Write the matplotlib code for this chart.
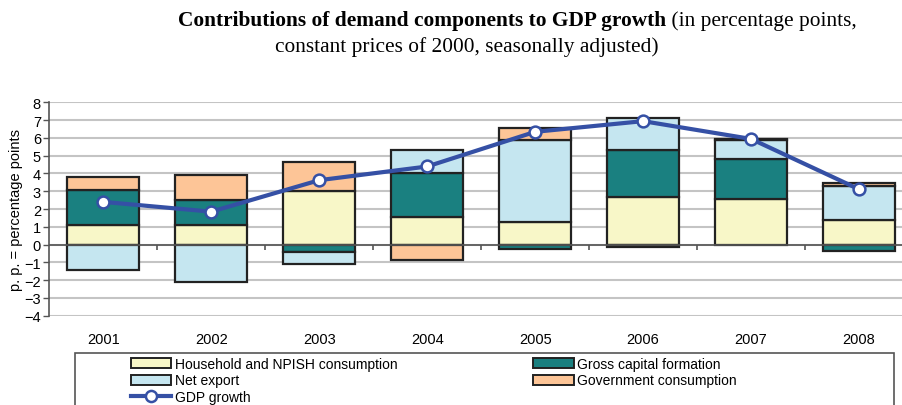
import numpy as np
import matplotlib
matplotlib.use("Agg")
import matplotlib.pyplot as plt
from matplotlib.patches import Patch, Rectangle
from matplotlib.lines import Line2D

years = ["2001", "2002", "2003", "2004", "2005", "2006", "2007", "2008"]
household = [1.10, 1.10, 3.00, 1.57, 1.26, 2.66, 2.59, 1.37]
gcf = [1.95, 1.40, -0.41, 2.46, -0.24, 2.66, 2.23, -0.35]
net_export = [-1.45, -2.10, -0.66, 1.27, 4.64, 1.77, 1.05, 1.91]
gov = [0.75, 1.40, 1.63, -0.84, 0.64, -0.15, 0.08, 0.17]
gdp = [2.40, 1.85, 3.62, 4.39, 6.34, 6.94, 5.94, 3.11]

series = [
    ("Household and NPISH consumption", household, "#F8F7C8"),
    ("Gross capital formation", gcf, "#1A8080"),
    ("Net export", net_export, "#C5E6F0"),
    ("Government consumption", gov, "#FDC597"),
]

plt.rcParams['font.family'] = ['Liberation Sans', 'DejaVu Sans']
W, H = 903, 406
fig = plt.figure(figsize=(W / 100, H / 100), dpi=100)

def fx(px):
    return px / W

def fy(py):
    return 1 - py / H

ax = fig.add_axes([fx(49.3), fy(316.7), fx(913 - 49.3), (316.7 - 103.3) / H])

x = np.arange(len(years))
pos_bottom = np.zeros(len(years))
neg_bottom = np.zeros(len(years))
bw = 0.67
for name, vals, col in series:
    v = np.array(vals, dtype=float)
    bottom = np.where(v >= 0, pos_bottom, neg_bottom)
    ax.bar(x, v, bw, bottom=bottom, color=col, edgecolor="#222222",
           linewidth=1.6, zorder=3)
    pos_bottom = pos_bottom + np.where(v >= 0, v, 0)
    neg_bottom = neg_bottom + np.where(v < 0, v, 0)

ax.plot(x, gdp, color="#3550A5", linewidth=3, marker="o", markersize=8.5,
        markerfacecolor="white", markeredgecolor="#3550A5",
        markeredgewidth=1.8, zorder=5)

ax.set_xlim(-0.5, len(years) - 0.5)
ax.set_ylim(-4, 8)
ax.set_yticks(np.arange(-4, 9, 1))
ax.yaxis.grid(True, color="#C4C4C4", linewidth=1.5, zorder=0)
ax.set_axisbelow(True)
ax.axhline(0, color="#555555", linewidth=1.2, zorder=4)
bounds = np.arange(len(years) - 1) + 0.5
ax.vlines(bounds, -0.28, 0, color="#555555", linewidth=1.2, zorder=4)

ax.set_xticks(x)
ax.set_xticklabels(years)
ax.tick_params(axis="x", length=0, pad=12, labelsize=10.5)
ax.tick_params(axis="y", length=4, width=1, color="#555555", pad=2,
               labelsize=10.5)
for s in ["top", "right", "bottom"]:
    ax.spines[s].set_visible(False)
ax.spines["left"].set_color("#555555")
ax.spines["left"].set_linewidth(1.2)

fig.text(fx(16), fy(210), "p. p. = percentage points", rotation=90,
         ha="center", va="center", fontsize=10.5)

t1 = fig.text(fx(178), fy(21), "Contributions of demand components to GDP growth",
              ha="left", va="center", fontsize=15.4, fontweight="bold",
              family=["Liberation Serif"])
fig.canvas.draw()
ax.annotate(" (in percentage points,", xy=(1, 0), xycoords=t1,
            ha="left", va="bottom", fontsize=15.4, family=["Liberation Serif"],
            annotation_clip=False)
fig.text(fx(467), fy(47), "constant prices of 2000, seasonally adjusted)",
         ha="center", va="center", fontsize=15.4, family=["Liberation Serif"])

# legend frame (extends past figure bottom)
fig.patches.append(Rectangle((fx(75), fy(430)), fx(894 - 75), (430 - 354) / H,
                             transform=fig.transFigure, fill=False,
                             edgecolor="#555555", linewidth=1.2))

handles = [
    Patch(facecolor=series[0][2], edgecolor="#222222", linewidth=1.4),
    Patch(facecolor=series[2][2], edgecolor="#222222", linewidth=1.4),
    Line2D([], [], color="#3550A5", linewidth=3, marker="o", markersize=8,
           markerfacecolor="white", markeredgecolor="#3550A5",
           markeredgewidth=1.8),
    Patch(facecolor=series[1][2], edgecolor="#222222", linewidth=1.4),
    Patch(facecolor=series[3][2], edgecolor="#222222", linewidth=1.4),
]
labels = [series[0][0], series[2][0], "GDP growth", series[1][0], series[3][0]]
fig.legend(handles, labels, ncol=2, loc="upper left",
           bbox_to_anchor=(fx(131), fy(358)), frameon=False,
           borderaxespad=0, borderpad=0, fontsize=10, handlelength=2.9,
           handletextpad=0.25, labelspacing=0.18, columnspacing=9.8)

fig.savefig("out.png", dpi=100)
